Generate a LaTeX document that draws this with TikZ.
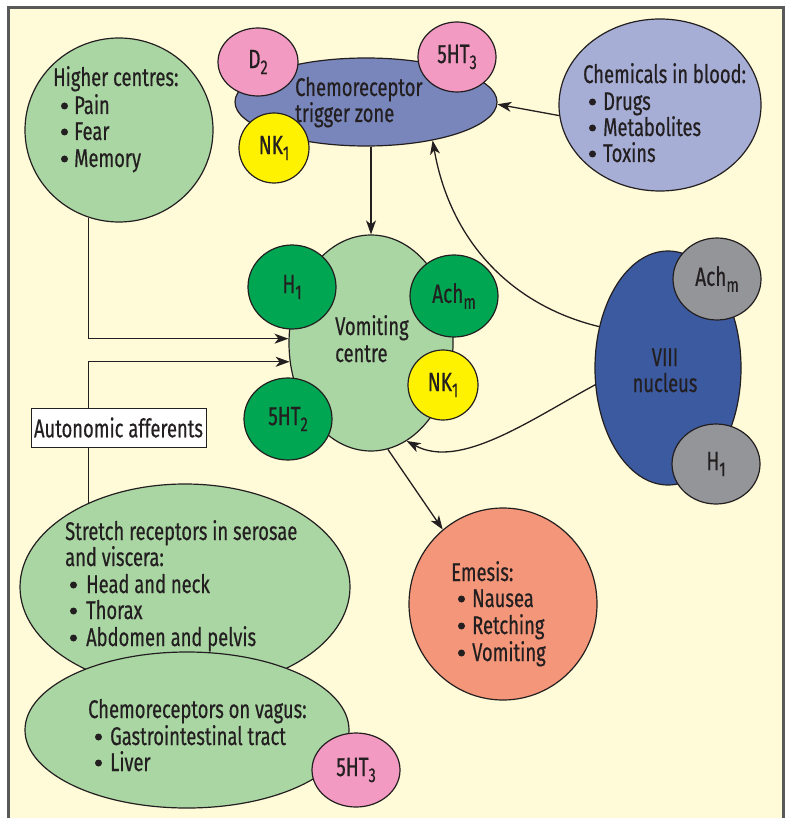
\documentclass[tikz,border=0pt]{standalone}
\usepackage{fontspec}
\setmainfont[FakeStretch=0.72,FakeBold=0.5]{Fira Sans}
\usetikzlibrary{shapes.geometric,arrows.meta}
\definecolor{bg}{RGB}{255,250,215}
\definecolor{lgreen}{RGB}{170,214,164}
\definecolor{dgreen}{RGB}{0,166,81}
\definecolor{pinkr}{RGB}{243,154,194}
\definecolor{yel}{RGB}{255,242,0}
\definecolor{ctzblue}{RGB}{121,134,187}
\definecolor{chemblue}{RGB}{166,174,214}
\definecolor{viiiblue}{RGB}{60,90,160}
\definecolor{grayr}{RGB}{147,149,152}
\definecolor{salmon}{RGB}{244,150,121}
\definecolor{ink}{RGB}{35,31,32}
\definecolor{framegray}{RGB}{88,89,91}
\newcommand\lsub[1]{\raisebox{-6pt}{\fontsize{20}{20}\selectfont #1}}
\newcommand\bl[5]{\node[dot] (#1b) at (#2+3.5,#4-8) {}; \node[txt] (#1) at (#3,#4) {#5};}
\begin{document}
\begin{tikzpicture}[x=1pt,y=-1pt,
  every node/.style={font=\fontsize{25.5}{26.5}\selectfont, text=ink},
  blob/.style={ellipse, draw=ink, line width=1.2pt, inner sep=0pt},
  rcp/.style={blob, font=\fontsize{26.5}{26.5}\selectfont},
  txt/.style={anchor=base west, inner sep=0pt},
  dot/.style={circle, fill=ink, minimum size=7pt, inner sep=0pt},
  arr/.style={draw=ink, line width=1.3pt, -{Stealth[length=14pt,width=10pt,inset=4pt]}}]
\useasboundingbox (0,0) rectangle (789,818);
\fill[white] (0,0) rectangle (789,818);
\draw[draw=framegray, line width=2.5pt, fill=bg] (8.5,7.5) rectangle (783.5,840);

% higher centres
\node[blob, fill=lgreen, minimum width=188pt, minimum height=184pt] (hc) at (119,130) {};
% chemicals in blood
\node[blob, fill=chemblue, minimum width=202pt, minimum height=172pt] (cb) at (660,105) {};
% CTZ
\node[blob, fill=ctzblue, minimum width=262pt, minimum height=88pt] (ctz) at (366,102) {};
\node[rcp, fill=pinkr, minimum width=80pt, minimum height=68pt] (d2) at (258,62) {D\lsub{2}};
\node[rcp, fill=pinkr, minimum width=78pt, minimum height=70pt] (ht3a) at (457,57) {5HT\lsub{3}};
\node[rcp, fill=yel, minimum width=70pt, minimum height=70pt] (nk1a) at (274,148) {NK\lsub{1}};
% vomiting centre
\node[blob, fill=lgreen, minimum width=164pt, minimum height=216pt] (vc) at (371,343) {};
\node[rcp, fill=dgreen, minimum width=88pt, minimum height=84pt] (h1a) at (292,287) {H\lsub{1}};
\node[rcp, fill=dgreen, minimum width=88pt, minimum height=82pt] (acha) at (454,296) {Ach\lsub{m}};
\node[rcp, fill=yel, minimum width=70pt, minimum height=70pt] (nk1b) at (443,385) {NK\lsub{1}};
\node[rcp, fill=dgreen, minimum width=88pt, minimum height=82pt] (ht2) at (288,419) {5HT\lsub{2}};
% VIII nucleus
\node[blob, fill=viiiblue, minimum width=146pt, minimum height=234pt] (viii) at (668,368) {};
\node[rcp, fill=grayr, minimum width=88pt, minimum height=82pt] (achb) at (717,279) {Ach\lsub{m}};
\node[rcp, fill=grayr, minimum width=88pt, minimum height=80pt] (h1b) at (716,464) {H\lsub{1}};
% stretch receptors and vagus
\node[blob, fill=lgreen, minimum width=330pt, minimum height=206pt] (sr) at (185,587) {};
\node[blob, fill=lgreen, minimum width=324pt, minimum height=156pt] (vag) at (187,730) {};
\node[rcp, fill=pinkr, minimum width=88pt, minimum height=74pt] (ht3b) at (356,770) {5HT\lsub{3}};
% emesis
\node[blob, fill=salmon, minimum width=188pt, minimum height=192pt] (em) at (503,604) {};

% texts
\node[txt] (hct) at (53,86) {Higher centres:};
\bl{hc1}{61}{74}{114}{Pain}
\bl{hc2}{61}{74}{140}{Fear}
\bl{hc3}{61}{74}{167}{Memory}
\node[txt] (cbt) at (583,83) {Chemicals in blood:};
\bl{cb1}{589}{603}{110}{Drugs}
\bl{cb2}{589}{603}{136}{Metabolites}
\bl{cb3}{589}{603}{162}{Toxins}
\node[txt] (ctzt1) at (295,96) {Chemoreceptor};
\node[txt] (ctzt2) at (295,122) {trigger zone};
\node[txt] (vct1) at (335,335) {Vomiting};
\node[txt] (vct2) at (335,362) {centre};
\node[anchor=base, inner sep=0pt] (viiit1) at (665,366) {VIII};
\node[anchor=base, inner sep=0pt] (viiit2) at (665,392) {nucleus};
\node[txt] (srt1) at (65,540) {Stretch receptors in serosae};
\node[txt] (srt2) at (65,566) {and viscera:};
\bl{sr1}{70}{86}{593}{Head and neck}
\bl{sr2}{70}{86}{619}{Thorax}
\bl{sr3}{70}{86}{646}{Abdomen and pelvis}
\node[txt] (vagt) at (88,718) {Chemoreceptors on vagus:};
\bl{vag1}{95}{110}{745}{Gastrointestinal tract}
\bl{vag2}{95}{110}{771}{Liver}
\node[txt] (emt) at (451,581) {Emesis:};
\bl{em1}{458}{472}{607}{Nausea}
\bl{em2}{458}{472}{634}{Retching}
\bl{em3}{458}{472}{661}{Vomiting}

% connectors
\draw[arr] (ctz.south -| vc.north) -- (vc.north);
\draw[arr] (cb.186) -- (ctz.-1);
\draw[arr] (hc.251) |- (vc.177);
\draw[arr] (sr.139) |- (vc.193);
\draw[arr] (vc.-81) -- (em.129);
\draw[arr] (viii.149) .. controls (510,305) and (450,240) .. (ctz.-30);
\draw[arr] (viii.193) .. controls (530,420) and (460,470) .. (vc.-70);

\node[draw=ink, fill=white, line width=1pt, minimum width=175pt, minimum height=39pt, inner sep=0pt] (aa) at (118.5,427.5) {Autonomic afferents};
\end{tikzpicture}
\end{document}
